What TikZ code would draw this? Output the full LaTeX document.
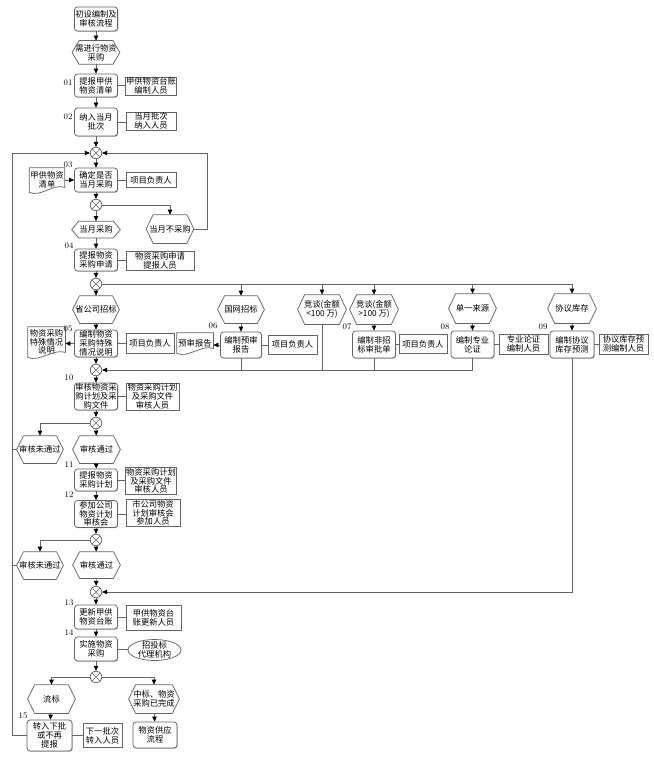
\documentclass[tikz,border=0pt]{standalone}
\usepackage{fontspec}
\newfontfamily\cjk{Noto Sans CJK SC}
\usetikzlibrary{arrows.meta,calc,shadows}
\definecolor{lgray}{RGB}{100,100,100}
\tikzset{
  base/.style={font=\cjk\fontsize{8.3}{8.8}\selectfont, align=center, inner sep=0.8pt},
  proc/.style={base, draw=lgray, fill=white, rounded corners=3pt, minimum width=43pt,
    drop shadow={shadow xshift=0.7pt, shadow yshift=-0.7pt, opacity=0.35, fill=black}},
  role/.style={base, draw=lgray, fill=white,
    drop shadow={shadow xshift=0.7pt, shadow yshift=-0.7pt, opacity=0.35, fill=black}},
  hexb/.style={base},
  shapeline/.style={draw=lgray},
  xor/.style={circle, draw=lgray, fill=white, minimum size=11.5pt, inner sep=0pt,
    path picture={\draw[lgray, line width=0.6pt] (path picture bounding box.north west) -- (path picture bounding box.south east)
      (path picture bounding box.north east) -- (path picture bounding box.south west);}},
  num/.style={font=\fontsize{8.5}{9}\selectfont, inner sep=0pt},
  arr/.style={draw=lgray, -{Triangle[length=5pt,width=4.5pt,color=black]}},
  ln/.style={draw=lgray}
}
\newcommand\myhex[6]{%
  \node[hexb, minimum width=#4, minimum height=#5] (#1) at (#2,#3) {#6};
  \draw[shapeline] (#1.west) -- ([xshift=7pt]#1.north west) -- ([xshift=-7pt]#1.north east) -- (#1.east)
    -- ([xshift=-7pt]#1.south east) -- ([xshift=7pt]#1.south west) -- cycle;}
\newcommand\mydoc[6]{%
  \node[hexb, minimum width=#4, minimum height=#5] (#1) at (#2,#3) {#6};
  \draw[shapeline] (#1.north west) -- (#1.north east) -- ([yshift=5pt]#1.south east)
    .. controls +(-12pt,4pt) and +(12pt,-5pt) .. (#1.south west) -- cycle;}
\begin{document}
\begin{tikzpicture}[x=1pt, y=-1pt, line width=0.75pt]
\useasboundingbox (0,0) rectangle (653,757);
\coordinate (lx) at (12,0);
\coordinate (rx) at (207,0);

% top column
\node[proc, minimum height=24] (start) at (96,19) {初设编制及\\审核流程};
\myhex{h0}{96}{52.5}{47}{23}{需进行物资\\采购}
\node[proc, minimum height=23] (b01) at (96,85.5) {提报甲供\\物资清单};
\node[role, minimum width=50, minimum height=18] (s01) at (151,86) {甲供物资台账\\编制人员};
\node[num] (n01) at (68,83) {01};
\node[proc, minimum height=28] (b02) at (96,122) {纳入当月\\批次};
\node[role, minimum width=50, minimum height=18] (s02) at (151,121) {当月批次\\纳入人员};
\node[num] (n02) at (68,117) {02};
\node[xor] (x1) at (96,153) {};
\node[proc, minimum height=24] (b03) at (96,180) {确定是否\\当月采购};
\node[role, minimum width=50, minimum height=15] (s03) at (151,180) {项目负责人};
\node[num] (n03) at (68,165) {03};
\mydoc{d03}{47}{180}{34}{24}{甲供物资\\清单}
\node[xor] (x2) at (96,205) {};
\myhex{h1}{96}{229.5}{48}{16}{当月采购}
\myhex{h2}{170}{229}{47}{28}{当月不采购}
\node[proc, minimum height=22] (b04) at (96,260) {提报物资\\采购申请};
\node[role, minimum width=68, minimum height=19] (s04) at (160,260.5) {物资采购申请\\提报人员};
\node[num] (n04) at (69,246) {04};
\node[xor] (x3) at (96,284) {};

% branches
\myhex{hs1}{96}{309.5}{46}{27}{省公司招标}
\myhex{hs2}{241}{309.5}{46}{27}{国网招标}
\myhex{hs3}{322}{309.5}{48}{29}{竞谈(金额\\<100 万)}
\myhex{hs4}{374}{309.5}{48}{29}{竞谈(金额\\>100 万)}
\myhex{hs5}{472.5}{308.5}{47}{29}{单一来源}
\myhex{hs6}{572}{308.5}{48}{29}{协议库存}

\node[proc, minimum height=27] (b05) at (96,343.5) {编制物资\\采购特殊\\情况说明};
\mydoc{d05}{46.5}{342}{37}{30}{物资采购\\特殊情况\\说明}
\node[role, minimum width=48, minimum height=20] (s05) at (150,343.5) {项目负责人};
\node[num] (n05) at (68,329) {05};
\node[proc, minimum width=41, minimum height=26] (b06) at (241,345) {编制预审\\报告};
\mydoc{d06}{195}{343}{36}{20}{预审报告}
\node[role, minimum width=49, minimum height=19] (s06) at (292.5,344.5) {项目负责人};
\node[num] (n06) at (213,326) {06};
\node[proc, minimum height=27] (b07) at (374,344.5) {编制非招\\标审批单};
\node[role, minimum width=48, minimum height=19] (s07) at (423,344) {项目负责人};
\node[num] (n07) at (347,327) {07};
\node[proc, minimum height=27] (b08) at (472.5,344.5) {编制专业\\论证};
\node[role, minimum width=49, minimum height=20] (s08) at (523.5,344) {专业论证\\编制人员};
\node[num] (n08) at (445,327) {08};
\node[proc, minimum width=44, minimum height=27] (b09) at (572,344.5) {编制协议\\库存预测};
\node[role, minimum width=49, minimum height=20] (s09) at (623.5,344) {协议库存预\\测编制人员};
\node[num] (n09) at (543,327) {09};

\node[xor] (x4) at (96,370) {};
\node[proc, minimum height=27] (b10) at (96,396.5) {审核物资采\\购计划及采\\购文件};
\node[role, minimum width=53, minimum height=25] (s10) at (152.5,396.5) {物资采购计划\\及采购文件\\审核人员};
\node[num] (n10) at (69,378) {10};
\node[xor] (x5) at (96,423) {};
\myhex{hn1}{40}{449.5}{46}{27}{审核未通过}
\myhex{hy1}{96.5}{449.5}{47}{27}{审核通过}
\node[proc, minimum height=22] (b11) at (96,480) {提报物资\\采购计划};
\node[role, minimum width=50, minimum height=24] (s11) at (151,481) {物资采购计划\\及采购文件\\审核人员};
\node[num] (n11) at (69,465) {11};
\node[proc, minimum height=26] (b12) at (96,514) {参加公司\\物资计划\\审核会};
\node[role, minimum width=54, minimum height=24] (s12) at (153,513) {市公司物资\\计划审核会\\参加人员};
\node[num] (n12) at (69,495) {12};
\node[xor] (x6) at (96,540) {};
\myhex{hn2}{40}{565.5}{46}{27}{审核未通过}
\myhex{hy2}{96.5}{565}{47}{26}{审核通过}
\node[xor] (x7) at (96,592) {};
\node[proc, minimum height=24] (b13) at (96,617) {更新甲供\\物资台账};
\node[role, minimum width=55, minimum height=25] (s13) at (153.5,617.5) {甲供物资台\\账更新人员};
\node[num] (n13) at (69,603) {13};
\node[proc, minimum height=24] (b14) at (96,649) {实施物资\\采购};
\node[hexb, minimum width=53, minimum height=21] (e14) at (154.5,650) {招投标\\代理机构};
\draw[shapeline] (e14.center) ellipse [x radius=26.5pt, y radius=10.5pt];
\node[num] (n14) at (69,633) {14};
\node[xor] (x8) at (96,677) {};
\myhex{hl}{51.5}{699}{47}{28}{流标}
\myhex{hz}{154}{699}{50}{28}{中标、物资\\采购已完成}
\node[proc, minimum width=45, minimum height=31] (b15) at (49.5,735.5) {转入下批\\或不再\\提报};
\node[role, minimum width=39, minimum height=24] (s15) at (102.5,735.5) {下一批次\\转入人员};
\node[num] (n15) at (23,716) {15};
\node[proc, minimum width=44, minimum height=26] (bsup) at (155,735) {物资供应\\流程};

% role connectors
\foreach \b/\s in {b01/s01,b02/s02,b03/s03,b04/s04,b05/s05,b06/s06,b07/s07,b08/s08,b09/s09,b10/s10,b11/s11,b12/s12,b13/s13,b14/e14,b15/s15}
  \draw[ln] (\b.east) -- (\b.east -| \s.west);

% main flow
\draw[arr] (start) -- (h0);
\draw[arr] (h0) -- (b01);
\draw[arr] (b01) -- (b02);
\draw[arr] (b02) -- (x1);
\draw[arr] (x1) -- (b03);
\draw[arr] (d03.east |- b03) -- (b03);
\draw[arr] (b03) -- (x2);
\draw[arr] (x2) -- (h1);
\draw[arr] (x2) -| (h2);
\draw[arr] (h2.east) -- (h2.east -| rx) |- (x1);
\draw[arr] (h1) -- (b04);
\draw[arr] (b04) -- (x3);
\draw[arr] (x3) -- (hs1);
\draw[arr] (x3) -| (hs6);
\foreach \h in {hs2,hs3,hs4,hs5}
  \draw[arr] (\h.north |- x3) -- (\h);
\draw[arr] (hs1) -- (b05);
\draw[arr] (hs2) -- (b06);
\draw[arr] (hs4) -- (b07);
\draw[arr] (hs5) -- (b08);
\draw[arr] (hs6) -- (b09);
\draw[arr] (b05.west) -- (b05.west -| d05.east);
\draw[arr] (b06.west) -- (b06.west -| d06.east);
\draw[arr] (b05) -- (x4);
\draw[arr] (b08.south) |- (x4);
\draw[ln] (b06.south) -- (b06.south |- x4);
\draw[ln] (hs3.south) -- (hs3.south |- x4);
\draw[ln] (b07.south) -- (b07.south |- x4);
\draw[arr] (b09.south) |- (x7);
\draw[arr] (x4) -- (b10);
\draw[arr] (b10) -- (x5);
\draw[arr] (x5) -| (hn1);
\draw[arr] (x5) -- (hy1);
\draw[ln] (hn1.west) -- (hn1.west -| lx);
\draw[arr] (hy1) -- (b11);
\draw[arr] (b11) -- (b12);
\draw[arr] (b12) -- (x6);
\draw[arr] (x6) -| (hn2);
\draw[arr] (x6) -- (hy2);
\draw[ln] (hn2.west) -- (hn2.west -| lx);
\draw[arr] (hy2) -- (x7);
\draw[arr] (x7) -- (b13);
\draw[arr] (b13) -- (b14);
\draw[arr] (b14) -- (x8);
\draw[arr] (x8) -| (hl);
\draw[arr] (x8) -| (hz);
\draw[arr] (hl) -- (b15);
\draw[arr] (hz) -- (bsup);
\draw[arr] (b15.west) -- (b15.west -| lx) |- (x1);
\end{tikzpicture}
\end{document}
